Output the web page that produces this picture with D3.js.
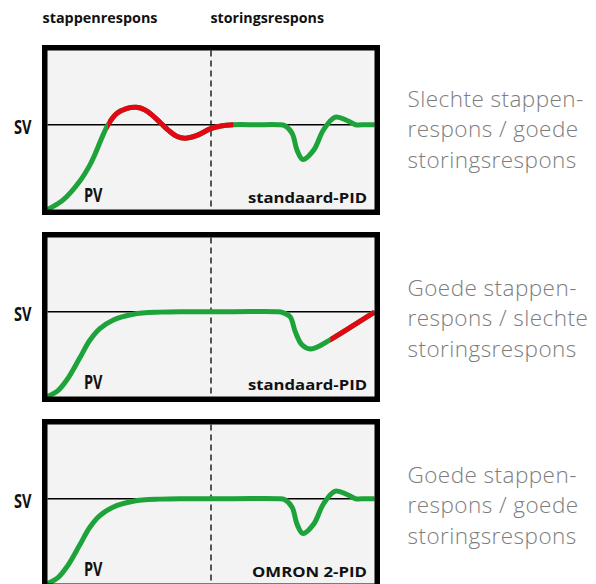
<!DOCTYPE html>
<html lang="nl">
<head>
  <meta charset="UTF-8">
  <title>Stappenrespons / storingsrespons</title>
  <style>
  body { margin: 0; background: #fff; }
  .title { font-family: "Open Sans", sans-serif; font-weight: 700; font-size: 13.5px; fill: #111; }
  .big   { font-family: "Open Sans", sans-serif; font-weight: 700; font-size: 19.5px; fill: #111; }
  .ctrl  { font-family: "Open Sans", sans-serif; font-weight: 700; font-size: 15px; fill: #111; }
  .caption { font-family: "Open Sans", sans-serif; font-weight: 300; font-size: 22.5px; letter-spacing: 0.45px; fill: #7d7d7d; }
  </style>
</head>
<body>
  <script src="https://d3js.org/d3.v7.min.js"></script>
  <script type="text/javascript">

    // tijd 0..100, waarde 0 = onderkant, 1 = SV
    var titles = ["stappenrespons", "storingsrespons"];
    var controllers = ["standaard-PID", "standaard-PID", "OMRON 2-PID"];
    var captions = [
      ["Slechte stappen-", "respons / goede", "storingsrespons"],
      ["Goede stappen-", "respons / slechte", "storingsrespons"],
      ["Goede stappen-", "respons / goede", "storingsrespons"]
    ];
    var disturbanceAt = 50;

    var pv1 = [
      [0, 0], [4.7, 0.11], [9.8, 0.33], [12.9, 0.52], [14.4, 0.64], [17.0, 0.88],
      [18.5, 1.0], [21.1, 1.13], [24.1, 1.19], [27.2, 1.205], [29.7, 1.176],
      [32.1, 1.11], [34.6, 1.02], [37.1, 0.93], [39.5, 0.864], [42.0, 0.84],
      [45.5, 0.87], [49.7, 0.95], [53, 0.985], [56.8, 1.0], [64, 1.0], [70.5, 1.0],
      [72.5, 0.99], [74.8, 0.90], [76.3, 0.70], [78.1, 0.59], [81.4, 0.70],
      [84.4, 0.94], [88.0, 1.09], [91.6, 1.05], [94.2, 1.0], [97, 1.0], [100, 1.0]
    ];
    var pv2 = [
      [0, 0], [3.2, 0.07], [6, 0.2], [9.8, 0.45], [12.9, 0.66], [16.0, 0.80],
      [20.0, 0.90], [26.2, 0.97], [34.4, 0.995], [42.5, 1.0], [57, 1.0], [70, 1.0], [72, 0.99],
      [74.2, 0.94], [75.8, 0.76], [77.8, 0.61], [80.4, 0.56], [83.4, 0.60],
      [86.5, 0.67], [93.2, 0.83], [100, 0.995]
    ];
    var pv3 = [
      [0, 0], [3.2, 0.07], [6, 0.2], [9.8, 0.45], [12.9, 0.66], [16.0, 0.80],
      [20.0, 0.90], [26.2, 0.97], [34.4, 0.995], [42.5, 1.0], [57, 1.0], [70.5, 1.0], [72.5, 0.99],
      [74.8, 0.90], [76.3, 0.70], [78.1, 0.59], [81.4, 0.70], [84.4, 0.94],
      [88.0, 1.09], [91.6, 1.05], [94.2, 1.0], [97, 1.0], [100, 1.0]
    ];
    var series = [pv1, pv2, pv3];
    // stukken van de curve die slecht (rood) zijn
    var badRanges = [[18.5, 56.8], [86.5, 100], null];

    var width = 596, height = 584;
    var green = "#1ea33a", red = "#e30613";
    var panelTop = [45, 232, 419];
    var captionTop = [106.5, 295.5, 482.5];
    var frameLeft = 42, frameRight = 380, frameH = 170, border = 5.5;

    var svg = d3.select("body").append("svg")
        .attr("width", width)
        .attr("height", height);

    svg.selectAll("text.title")
      .data(titles)
      .enter().append("text")
        .attr("class", "title")
        .attr("x", function(d, i){ return i == 0 ? 42.5 : 210.5; })
        .attr("y", 22.7)
        .attr("textLength", function(d, i){ return i == 0 ? 115 : 113.5; })
        .attr("lengthAdjust", "spacingAndGlyphs")
        .text(function(d){ return d; });

    var x = d3.scaleLinear().domain([0, 100]).range([frameLeft + border, frameRight - border]);

    series.forEach(function(data, i){
      var top = panelTop[i];
      var y = d3.scaleLinear().domain([0, 1]).range([top + frameH - border, top + 79.7]);
      var g = svg.append("g");

      g.append("rect")
        .attr("x", frameLeft).attr("y", top)
        .attr("width", frameRight - frameLeft).attr("height", frameH)
        .attr("fill", "#f3f3f3");

      // SV lijn
      g.append("line")
        .attr("x1", x(0)).attr("x2", x(100))
        .attr("y1", y(1)).attr("y2", y(1))
        .attr("stroke", "#000").attr("stroke-width", 1.6);

      // storing
      g.append("line")
        .attr("x1", x(disturbanceAt)).attr("x2", x(disturbanceAt))
        .attr("y1", top + border).attr("y2", top + frameH - border)
        .attr("stroke", "#222").attr("stroke-width", 1.5)
        .attr("stroke-dasharray", "6,4");

      var line = d3.line()
        .x(function(d){ return x(d[0]); })
        .y(function(d){ return y(d[1]); })
        .curve(d3.curveCatmullRom.alpha(0.5));

      g.append("path")
        .datum(data)
        .attr("d", line)
        .attr("fill", "none")
        .attr("stroke", green)
        .attr("stroke-width", 5);

      var bad = badRanges[i];
      if (bad) {
        var clipId = "bad" + i;
        svg.append("clipPath").attr("id", clipId)
          .append("rect")
            .attr("x", x(bad[0])).attr("y", top)
            .attr("width", x(bad[1]) - x(bad[0])).attr("height", frameH);
        g.append("path")
          .datum(data)
          .attr("d", line)
          .attr("fill", "none")
          .attr("stroke", red)
          .attr("stroke-width", 5)
          .attr("clip-path", "url(#" + clipId + ")");
      }

      // kader
      g.append("rect")
        .attr("x", frameLeft + border / 2).attr("y", top + border / 2)
        .attr("width", frameRight - frameLeft - border).attr("height", frameH - border)
        .attr("fill", "none")
        .attr("stroke", "#000").attr("stroke-width", border);

      g.append("text").attr("class", "big")
        .attr("x", 14).attr("y", top + 88.7)
        .attr("textLength", 17.5).attr("lengthAdjust", "spacingAndGlyphs")
        .text("SV");

      g.append("text").attr("class", "big")
        .attr("x", 84).attr("y", top + 157)
        .attr("textLength", 18.5).attr("lengthAdjust", "spacingAndGlyphs")
        .text("PV");

      var cw = i == 2 ? 115 : 119;
      g.append("text").attr("class", "ctrl")
        .attr("x", 367 - cw).attr("y", top + 157.8)
        .attr("textLength", cw).attr("lengthAdjust", "spacingAndGlyphs")
        .text(controllers[i]);

      g.selectAll("text.caption")
        .data(captions[i])
        .enter().append("text")
          .attr("class", "caption")
          .attr("x", 407.5)
          .attr("y", function(d, j){ return captionTop[i] + j * 30.5; })
          .text(function(d){ return d; });
    });

  </script>
</body>
</html>
